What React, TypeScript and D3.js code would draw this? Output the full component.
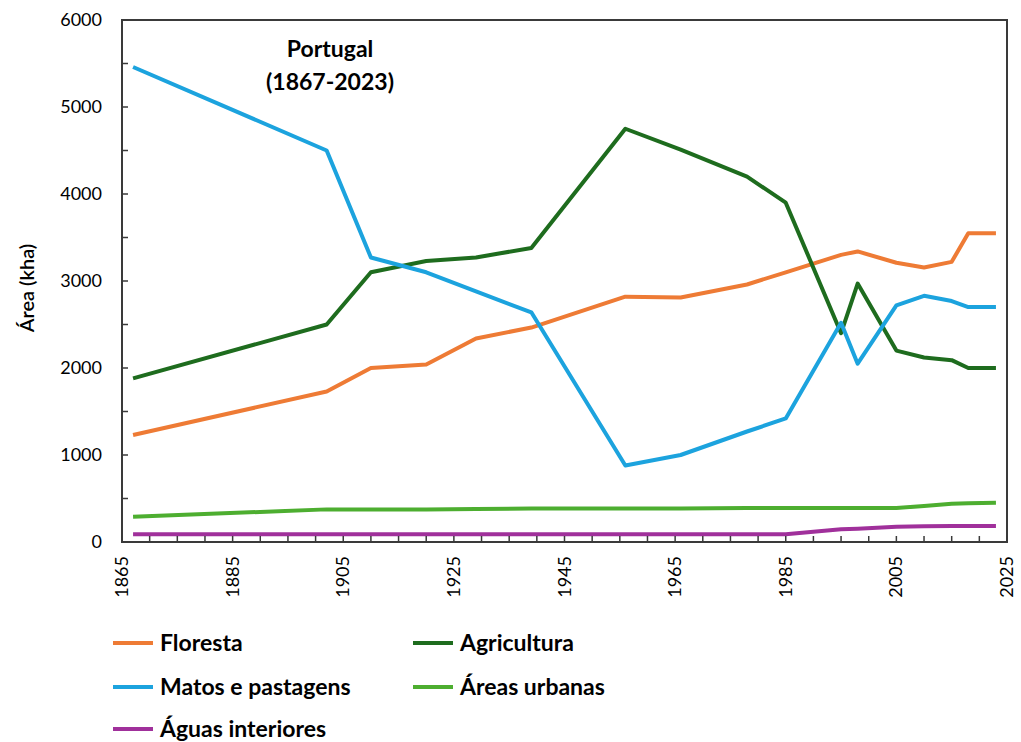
import React from "react";
import * as d3 from "d3";

const years = [1867, 1902, 1910, 1920, 1929, 1939, 1956, 1966, 1978, 1985, 1995, 1998, 2005, 2010, 2015, 2018, 2023];
const floresta = [1230, 1730, 2000, 2040, 2340, 2465, 2820, 2810, 2960, 3100, 3300, 3340, 3210, 3155, 3220, 3550, 3550];
const agricultura = [1880, 2500, 3100, 3230, 3270, 3380, 4750, 4510, 4200, 3900, 2400, 2970, 2200, 2120, 2090, 2000, 2000];
const matos = [5460, 4500, 3270, 3100, 2880, 2640, 880, 1000, 1270, 1420, 2520, 2050, 2720, 2830, 2770, 2700, 2700];
const urbanas = [290, 375, 375, 375, 378, 385, 385, 385, 390, 390, 390, 390, 390, 415, 440, 445, 450];
const aguas = [90, 90, 90, 90, 90, 90, 90, 90, 90, 90, 146, 153, 176, 180, 184, 185, 185];

const seriesNames = ["Floresta", "Agricultura", "Matos e pastagens", "Áreas urbanas", "Águas interiores"];
const seriesColors = ["#EE7B35", "#1E6C1E", "#1CA3DE", "#4DAE30", "#A0309B"];
const seriesValues = [floresta, agricultura, matos, urbanas, aguas];

const xTickYears = d3.range(1865, 2026, 20);
const yTickValues = d3.range(0, 6001, 1000);

export default function App() {
  const W = 1021, H = 742;
  const left = 122, right = 1007, top = 20, bottom = 542;
  const x = d3.scaleLinear().domain([1865, 2025]).range([left, right]);
  const y = d3.scaleLinear().domain([0, 6000]).range([bottom, top]);
  const line = d3.line<[number, number]>().x(d => x(d[0])).y(d => y(d[1]));
  const font = "Lato, 'Open Sans', sans-serif";

  const minorX = d3.range(1865, 2026, 5);
  const minorY = d3.range(0, 6001, 500);

  const legendPos = [
    [113, 643], [413, 643], [113, 687], [413, 687], [113, 729]
  ];

  return (
    <svg width={W} height={H} style={{ position: "absolute", left: 0, top: 0 }} fontFamily={font}>
      <rect x={0} y={0} width={W} height={H} fill="#fff" />
      {seriesValues.map((vals, i) => (
        <path key={i} d={line(years.map((yr, j) => [yr, vals[j]]) as [number, number][]) || ""}
          fill="none" stroke={seriesColors[i]} strokeWidth={4} strokeLinejoin="round" />
      ))}
      <rect x={left} y={top} width={right - left} height={bottom - top} fill="none" stroke="#3a3a3a" strokeWidth={2} />
      {minorX.map(v => (
        <line key={v} x1={x(v)} x2={x(v)} y1={bottom} y2={bottom - 6} stroke="#3a3a3a" strokeWidth={1.5} />
      ))}
      {minorY.map(v => (
        <line key={v} x1={left} x2={left + 6} y1={y(v)} y2={y(v)} stroke="#3a3a3a" strokeWidth={1.5} />
      ))}
      {xTickYears.map(v => (
        <text key={v} transform={`translate(${x(v) + 6},${556}) rotate(-90)`} textAnchor="end" fontSize={18} fill="#000">{v}</text>
      ))}
      {yTickValues.map(v => (
        <text key={v} x={102} y={y(v) + 6} textAnchor="end" fontSize={18} fill="#000">{v}</text>
      ))}
      <text transform={`translate(${34},${288}) rotate(-90)`} textAnchor="middle" fontSize={20} fontWeight={600} fill="#000">Área (kha)</text>
      <text x={330} y={57} textAnchor="middle" fontSize={23} fontWeight={700} fill="#000">Portugal</text>
      <text x={330} y={90} textAnchor="middle" fontSize={23} fontWeight={700} fill="#000">(1867-2023)</text>
      {seriesNames.map((n, i) => (
        <g key={n}>
          <line x1={legendPos[i][0]} x2={legendPos[i][0] + 40} y1={legendPos[i][1]} y2={legendPos[i][1]} stroke={seriesColors[i]} strokeWidth={4} />
          <text x={legendPos[i][0] + 47} y={legendPos[i][1] + 8} fontSize={23} fontWeight={700} fill="#000">{n}</text>
        </g>
      ))}
    </svg>
  );
}
